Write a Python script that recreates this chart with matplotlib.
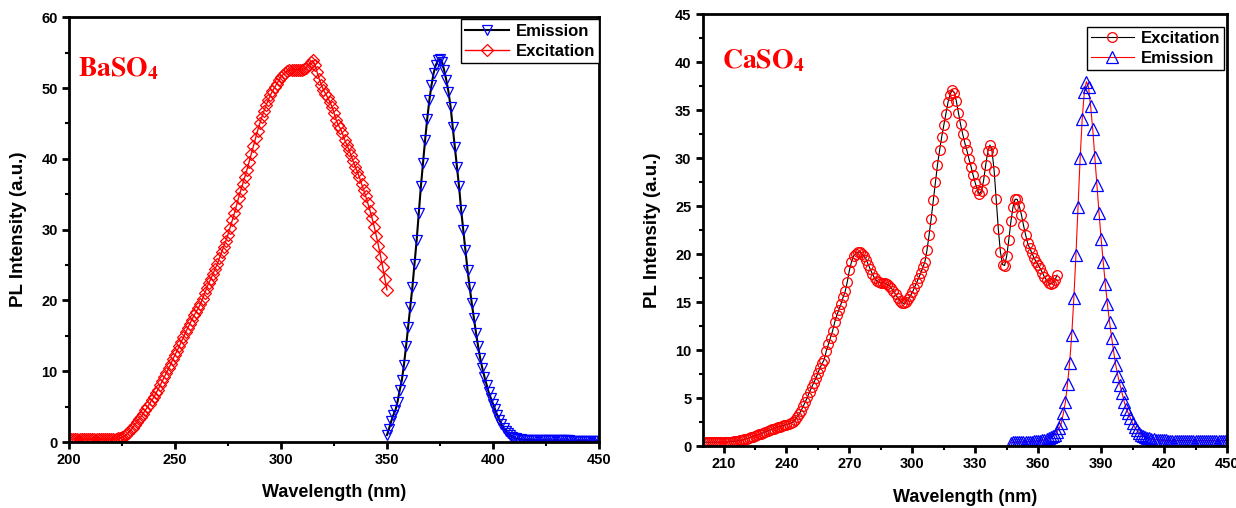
import numpy as np
import matplotlib
matplotlib.use('Agg')
import matplotlib.pyplot as plt
from matplotlib.ticker import MultipleLocator

# BaSO4 excitation, 200-350 nm, 1 nm step
ba_exc_start = 200
ba_exc = [0.4, 0.4, 0.4, 0.4, 0.4, 0.4, 0.4, 0.4, 0.4, 0.4,
          0.4, 0.4, 0.4, 0.4, 0.4, 0.4, 0.4, 0.4, 0.4, 0.4,
          0.4, 0.4, 0.45, 0.5, 0.55, 0.65, 0.8, 1.0, 1.3, 1.65,
          2.0, 2.4, 2.8, 3.2, 3.6, 4.0, 4.5, 4.9, 5.4, 5.9,
          6.3, 6.9, 7.4, 8.0, 8.6, 9.2, 9.8, 10.4, 11.0, 11.7,
          12.3, 12.9, 13.5, 14.2, 14.8, 15.5, 16.1, 16.7, 17.3, 17.9,
          18.4, 18.9, 19.5, 20.2, 21.0, 21.8, 22.5, 23.1, 23.8, 24.5,
          25.2, 26.0, 26.8, 27.6, 28.4, 29.3, 30.3, 31.3, 32.3, 33.4,
          34.5, 35.5, 36.5, 37.5, 38.5, 39.6, 40.7, 41.8, 42.9, 44.0,
          45.0, 45.9, 46.8, 47.6, 48.3, 49.0, 49.6, 50.1, 50.6, 51.1,
          51.6, 51.9, 52.2, 52.4, 52.5, 52.6, 52.6, 52.6, 52.6, 52.6,
          52.6, 52.7, 52.9, 53.3, 53.7, 53.9, 53.3, 52.3, 51.3, 50.5,
          49.8, 49.2, 48.7, 48.1, 47.4, 46.5, 45.5, 44.8, 44.3, 43.6,
          42.7, 42.0, 41.3, 40.5, 39.7, 38.9, 38.2, 37.4, 36.5, 35.6,
          34.7, 33.7, 32.7, 31.6, 30.4, 29.1, 27.7, 26.2, 24.7, 23.1,
          21.5]

# BaSO4 emission, 350-450 nm
ba_em_start = 350
ba_em = [1.0, 1.9, 2.9, 3.8, 4.5, 5.7, 7.3, 8.7, 10.9, 13.5,
         16.3, 19.1, 21.9, 25.2, 28.5, 32.3, 36.1, 39.4, 42.7, 45.7,
         48.3, 50.4, 52.1, 53.2, 53.9, 54.1, 53.7, 52.5, 51.1, 49.5,
         47.4, 44.5, 41.7, 38.9, 36.1, 32.8, 29.9, 27.1, 24.3, 21.9,
         19.6, 17.5, 15.4, 13.5, 11.8, 10.4, 9.2, 8.1, 7.0, 6.2,
         5.4, 4.6, 3.8, 3.1, 2.5, 2.0, 1.6, 1.25, 0.95, 0.75,
         0.6, 0.5, 0.45, 0.4, 0.35, 0.32, 0.3, 0.3, 0.28, 0.27,
         0.26, 0.26, 0.25, 0.25, 0.25, 0.24, 0.24, 0.24, 0.23, 0.23,
         0.23, 0.23, 0.22, 0.22, 0.22, 0.22, 0.22, 0.21, 0.21, 0.21,
         0.21, 0.21, 0.21, 0.2, 0.2, 0.2, 0.2, 0.2, 0.2, 0.2,
         0.2]

# CaSO4 excitation, 200-369 nm
ca_exc_start = 200
ca_exc = [0.4, 0.4, 0.4, 0.4, 0.4, 0.4, 0.4, 0.4, 0.4, 0.4,
          0.4, 0.4, 0.42, 0.44, 0.46, 0.48, 0.5, 0.55, 0.6, 0.65,
          0.7, 0.77, 0.84, 0.9, 0.97, 1.05, 1.13, 1.21, 1.3, 1.4,
          1.5, 1.58, 1.66, 1.74, 1.82, 1.9, 1.97, 2.03, 2.1, 2.17,
          2.23, 2.3, 2.38, 2.5, 2.75, 3.0, 3.3, 3.7, 4.15, 4.6,
          5.1, 5.65, 6.1, 6.6, 7.05, 7.6, 8.15, 8.6, 9.0, 9.9,
          10.6, 11.3, 12.0, 12.9, 13.6, 14.2, 14.8, 15.5, 16.1, 17.1,
          18.3, 19.2, 19.8, 20.05, 20.2, 20.2, 20.0, 19.8, 19.4, 18.9,
          18.4, 17.9, 17.5, 17.2, 17.05, 17.0, 17.0, 16.95, 16.85, 16.7,
          16.45, 16.15, 15.8, 15.45, 15.15, 14.95, 14.85, 15.0, 15.3, 15.65,
          16.0, 16.5, 17.0, 17.5, 18.0, 18.6, 19.2, 20.4, 22.0, 23.7,
          25.6, 27.5, 29.3, 30.8, 32.2, 33.4, 34.6, 35.8, 36.6, 37.1,
          36.8, 35.9, 34.7, 33.5, 32.5, 31.6, 30.8, 29.9, 29.1, 28.2,
          27.4, 26.7, 26.25, 26.6, 27.7, 29.3, 30.7, 31.35, 30.7, 28.7,
          25.7, 22.6, 20.2, 18.9, 18.8, 19.8, 21.5, 23.4, 24.9, 25.7,
          25.7, 25.0, 24.1, 23.0, 22.0, 21.1, 20.6, 20.1, 19.6, 19.2,
          18.85, 18.5, 18.05, 17.6, 17.3, 17.0, 16.9, 17.0, 17.3, 17.8]

# CaSO4 emission, 347-450 nm
ca_em_start = 347
ca_em = [0.35, 0.37, 0.38, 0.4, 0.4, 0.42, 0.42, 0.44, 0.45, 0.46,
         0.47, 0.48, 0.5, 0.52, 0.55, 0.6, 0.66, 0.74, 0.84, 0.95,
         1.05, 1.15, 1.5, 1.85, 2.35, 3.4, 4.6, 6.5, 8.7, 11.6,
         15.4, 19.9, 24.9, 30.0, 34.1, 36.9, 37.95, 37.4, 35.4, 33.0,
         30.1, 27.2, 24.3, 21.6, 19.2, 16.9, 14.8, 12.95, 11.3, 9.8,
         8.4, 7.3, 6.35, 5.5, 4.6, 3.9, 3.4, 2.9, 2.35, 1.95,
         1.65, 1.4, 1.2, 1.05, 0.95, 0.87, 0.8, 0.75, 0.7, 0.67,
         0.64, 0.62, 0.6, 0.58, 0.58, 0.57, 0.57, 0.57, 0.56, 0.56,
         0.56, 0.56, 0.55, 0.55, 0.55, 0.55, 0.55, 0.55, 0.55, 0.55,
         0.55, 0.55, 0.55, 0.55, 0.55, 0.55, 0.55, 0.55, 0.55, 0.55,
         0.55, 0.55, 0.55, 0.55]

ba_exc_x = ba_exc_start + np.arange(len(ba_exc))
ba_em_x = ba_em_start + np.arange(len(ba_em))
ca_exc_x = ca_exc_start + np.arange(len(ca_exc))
ca_em_x = ca_em_start + np.arange(len(ca_em))

plt.rcParams['font.family'] = ['Liberation Sans', 'DejaVu Sans']
plt.rcParams['font.weight'] = 'bold'
plt.rcParams['mathtext.fontset'] = 'stix'

fig = plt.figure(figsize=(12.36, 5.08), dpi=100)
ax1 = fig.add_axes([0.0558, 0.1299, 0.4288, 0.836])
ax2 = fig.add_axes([0.5684, 0.122, 0.4243, 0.8504])

ax1.plot(ba_em_x, ba_em, color='black', lw=1.5, marker='v', ms=7.5,
         mfc='none', mec='blue', mew=0.9, label='Emission')
ax1.plot(ba_exc_x, ba_exc, color='red', lw=1, marker='D', ms=6.3,
         mfc='none', mec='red', mew=0.9, label='Excitation')

ax2.plot(ca_exc_x, ca_exc, color='black', lw=0.8, marker='o', ms=7,
         mfc='none', mec='red', mew=0.9, label='Excitation')
ax2.plot(ca_em_x, ca_em, color='red', lw=0.8, marker='^', ms=8,
         mfc='none', mec='blue', mew=0.9, label='Emission')

ax1.set_xlim(200, 450)
ax1.set_ylim(0, 60)
ax1.xaxis.set_major_locator(MultipleLocator(50))
ax1.xaxis.set_minor_locator(MultipleLocator(25))
ax1.yaxis.set_major_locator(MultipleLocator(10))
ax1.yaxis.set_minor_locator(MultipleLocator(5))

ax2.set_xlim(200, 450)
ax2.set_ylim(0, 45)
ax2.set_xticks(np.arange(210, 451, 30))
ax2.xaxis.set_minor_locator(MultipleLocator(15))
ax2.yaxis.set_major_locator(MultipleLocator(5))
ax2.yaxis.set_minor_locator(MultipleLocator(2.5))

for ax in (ax1, ax2):
    for s in ax.spines.values():
        s.set_linewidth(2)
    ax.tick_params(which='major', direction='out', length=5, width=2,
                   labelsize=10.5, pad=3)
    ax.tick_params(which='minor', direction='out', length=3, width=1.5)
    for lab in ax.get_xticklabels() + ax.get_yticklabels():
        lab.set_fontweight('bold')
    ax.set_xlabel('Wavelength (nm)', fontsize=13, fontweight='bold')
    ax.set_ylabel('PL Intensity (a.u.)', fontsize=13.5, fontweight='bold')
    ax.xaxis.set_label_coords(0.5, -0.1)
    ax.yaxis.set_label_coords(-0.08, 0.5)

leg_kw = dict(fontsize=12, frameon=True, fancybox=False, framealpha=1,
              edgecolor='black', borderpad=0.25, labelspacing=0.3,
              handlelength=2.6, handletextpad=0.4)
leg1 = ax1.legend(loc='upper right', bbox_to_anchor=(1.0, 0.995),
                  borderaxespad=0.0, **leg_kw)
leg2 = ax2.legend(loc='upper right', bbox_to_anchor=(0.995, 0.97),
                  borderaxespad=0.0, **leg_kw)
for leg in (leg1, leg2):
    leg.get_frame().set_linewidth(1)

ax1.text(0.017, 0.862, r'$\mathbf{BaSO_4}$', transform=ax1.transAxes,
         color='red', fontsize=20, va='baseline')
ax2.text(0.037, 0.875, r'$\mathbf{CaSO_4}$', transform=ax2.transAxes,
         color='red', fontsize=20, va='baseline')

fig.savefig('out.png', dpi=100)
